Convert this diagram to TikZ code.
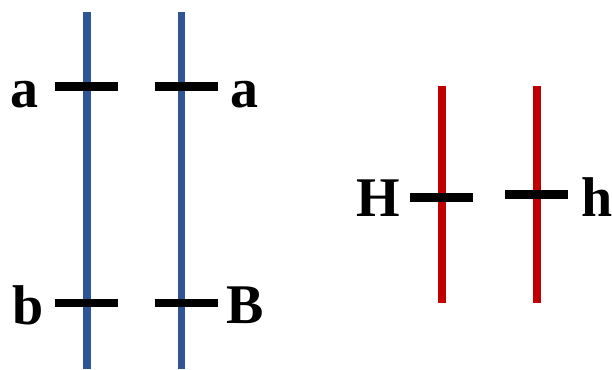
\documentclass[tikz,border=0pt]{standalone}
\usepackage{fontspec}
\setmainfont{Liberation Serif}
\definecolor{chromb}{RGB}{47,85,151}
\definecolor{chromr}{RGB}{192,0,0}

\begin{document}
\begin{tikzpicture}[x=1pt, y=-1pt, line cap=butt,
    font=\fontsize{56}{60}\selectfont\bfseries,
    allele/.style={anchor=base, inner sep=0pt}]
  \useasboundingbox (0,0) rectangle (612,369);

  % chromosomes
  \foreach \n/\x/\t/\b/\c in {b1/87/12/369/chromb, b2/181.5/12/369/chromb,
                              r1/442/86/303/chromr, r2/537/86/303/chromr}{
    \coordinate (\n top) at (\x,\t);
    \coordinate (\n bot) at (\x,\b);
    \draw[\c, line width=7.5pt] (\n top) -- (\n bot);
  }

  % loci
  \foreach \n/\x/\y in {la/86/86.5, ra/186.5/86.5, lb/86/303, rb/186.5/303,
                        lh/441.5/197.5, rh/536.5/194.5}{
    \coordinate (\n w) at (\x-31.5,\y);
    \coordinate (\n e) at (\x+31.5,\y);
    \draw[line width=8.5pt] (\n w) -- (\n e);
  }

  % allele labels
  \node[allele] (la) at (24.5,107) {a};
  \node[allele] (ra) at (244.5,107) {a};
  \node[allele] (lb) at (28.5,324) {b};
  \node[allele] (rb) at (245.5,323) {B};
  \node[allele] (lh) at (378.5,216) {H};
  \node[allele] (rh) at (597,216) {h};
\end{tikzpicture}
\end{document}
